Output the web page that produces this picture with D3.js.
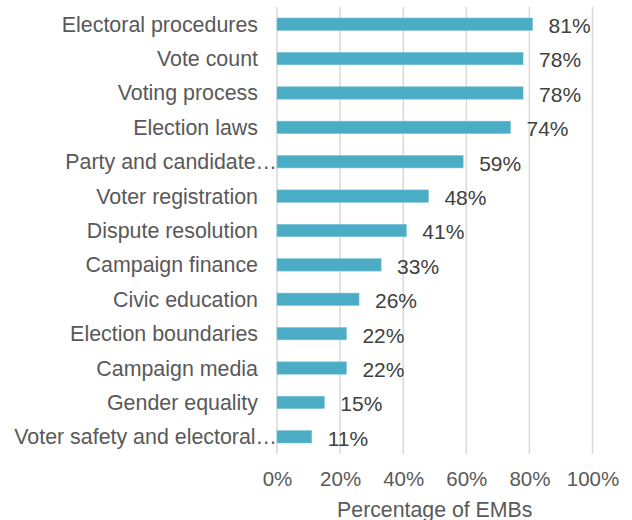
<!DOCTYPE html>
<html>
<head>
<meta charset="utf-8">
<script src="https://cdn.jsdelivr.net/npm/d3@7"></script>
<style>
  html, body { margin: 0; padding: 0; background: #fff; }
  svg { display: block; font-family: "Liberation Sans", Arial, sans-serif; }
</style>
</head>
<body>
<svg id="chart" width="632" height="520"></svg>
<script>
// Areas covered, top to bottom
const categories = [
  "Electoral procedures",
  "Vote count",
  "Voting process",
  "Election laws",
  "Party and candidate…",
  "Voter registration",
  "Dispute resolution",
  "Campaign finance",
  "Civic education",
  "Election boundaries",
  "Campaign media",
  "Gender equality",
  "Voter safety and electoral…"
];
// Share of EMBs (%)
const values = [81, 78, 78, 74, 59, 48, 41, 33, 26, 22, 22, 15, 11];
const xTicks = [0, 20, 40, 60, 80, 100];
const axisTitle = "Percentage of EMBs";

const svg = d3.select("#chart");
const plot = { left: 277, right: 592.5, top: 7, bottom: 454 };

const x = d3.scaleLinear().domain([0, 100]).range([plot.left, plot.right]);
const y = d3.scaleBand().domain(categories).range([plot.top, plot.bottom]).paddingInner(0.64).paddingOuter(0.32);

// vertical gridlines
svg.append("g")
  .selectAll("line")
  .data(xTicks)
  .join("line")
  .attr("x1", d => x(d)).attr("x2", d => x(d))
  .attr("y1", plot.top).attr("y2", plot.bottom)
  .attr("stroke", "#d9d9d9")
  .attr("stroke-width", 1.5);

// x tick labels
const xAxis = d3.axisBottom(x).tickValues(xTicks).tickFormat(d => d + "%").tickSize(0).tickPadding(0);
const gx = svg.append("g").attr("transform", `translate(0,${plot.bottom + 25})`).call(xAxis);
gx.select(".domain").remove();
gx.selectAll("text")
  .attr("dy", "0.35em")
  .attr("fill", "#595959")
  .style("font-size", "20.5px");

// category labels (truncated names run up to the axis)
const yAxis = d3.axisLeft(y).tickSize(0).tickPadding(0);
const gy = svg.append("g").attr("transform", `translate(${plot.left},0)`).call(yAxis);
gy.select(".domain").remove();
gy.selectAll("text")
  .attr("x", d => d.endsWith("…") ? 0 : -19)
  .attr("dy", "0.35em")
  .attr("fill", "#595959")
  .style("font-size", "21.4px");

// bars
svg.append("g")
  .selectAll("rect")
  .data(categories)
  .join("rect")
  .attr("x", x(0))
  .attr("y", d => y(d))
  .attr("width", (d, i) => x(values[i]) - x(0))
  .attr("height", y.bandwidth())
  .attr("fill", "#4bacc6")
  .attr("stroke", "#7cc4d6")
  .attr("stroke-width", 0.6);

// value labels
svg.append("g")
  .selectAll("text")
  .data(categories)
  .join("text")
  .attr("x", (d, i) => x(values[i]) + 16)
  .attr("y", d => y(d) + y.bandwidth() / 2 + 1.5)
  .attr("dy", "0.35em")
  .attr("fill", "#404040")
  .style("font-size", "21px")
  .text((d, i) => values[i] + "%");

// axis title
svg.append("text")
  .attr("x", (plot.left + plot.right) / 2)
  .attr("y", 517)
  .attr("text-anchor", "middle")
  .attr("fill", "#595959")
  .style("font-size", "21.3px")
  .text(axisTitle);
</script>
</body>
</html>
